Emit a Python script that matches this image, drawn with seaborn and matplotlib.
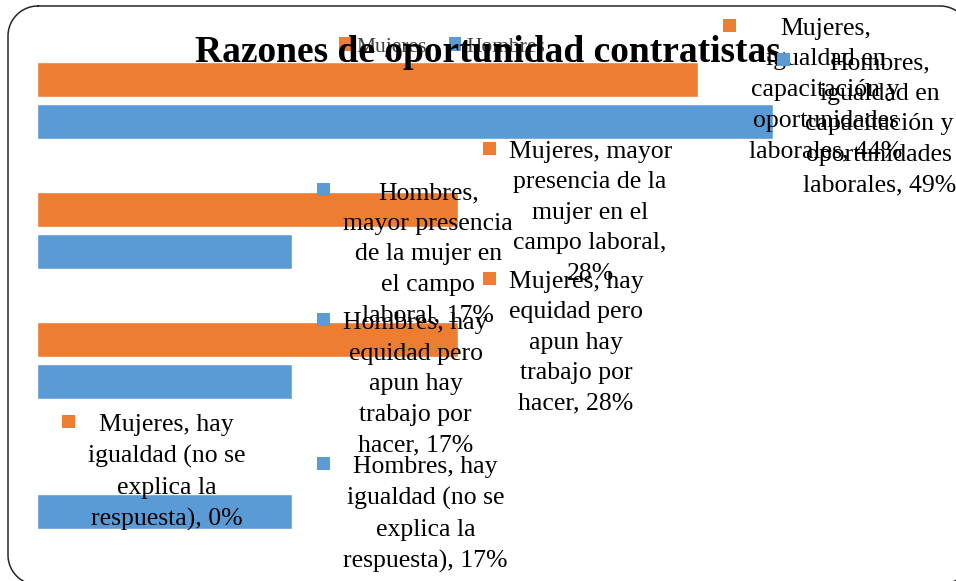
import numpy as np
import pandas as pd
import matplotlib
matplotlib.use("Agg")
import matplotlib.pyplot as plt
import seaborn as sns
from matplotlib.patches import Patch, Rectangle
from matplotlib.transforms import IdentityTransform

# datos
categorias = ["igualdad en capacitación y oportunidades laborales",
              "mayor presencia de la mujer en el campo laboral",
              "hay equidad pero apun hay trabajo por hacer",
              "hay igualdad (no se explica la respuesta)"]
mujeres = [44, 28, 28, 0]
hombres = [49, 17, 17, 17]

# textos de las etiquetas (ya cortados en lineas como en el original)
pref_mujeres = ["Mujeres,\nigualdad en\ncapacitación y\noportunidades\nlaborales, ",
                "Mujeres, mayor\npresencia de la\nmujer en el\ncampo laboral,\n",
                "Mujeres, hay\nequidad pero\napun hay\ntrabajo por\nhacer, ",
                "Mujeres, hay\nigualdad (no se\nexplica la\nrespuesta), "]
pref_hombres = ["Hombres,\nigualdad en\ncapacitación y\noportunidades\nlaborales, ",
                "Hombres,\nmayor presencia\nde la mujer en\nel campo\nlaboral, ",
                "Hombres, hay\nequidad pero\napun hay\ntrabajo por\nhacer, ",
                "Hombres, hay\nigualdad (no se\nexplica la\nrespuesta), "]

colores = {"Mujeres": "#ED7D31", "Hombres": "#5B9BD5"}

df = pd.DataFrame({
    "categoria": categorias * 2,
    "serie": ["Mujeres"] * 4 + ["Hombres"] * 4,
    "valor": mujeres + hombres,
})

sns.set_style("white")
plt.rcParams["font.family"] = ["Liberation Serif", "DejaVu Serif"]
plt.rcParams["text.color"] = "black"

W, H = 956, 581
fig = plt.figure(figsize=(W / 100, H / 100), dpi=100)
ax = fig.add_axes([37 / W, 0, 1 - 37 / W, 1])

sns.barplot(data=df, y="categoria", x="valor", hue="serie", orient="h",
            hue_order=["Mujeres", "Hombres"], palette=colores,
            width=0.645, gap=0.17, saturation=1, legend=False, ax=ax)

px_por_pct = 15.02
ax.set_xlim(0, (W - 37) / px_por_pct)
ax.set_ylim((H - 100.5) / 130, -100.5 / 130)
ax.axis("off")

# etiquetas de datos estilo Excel
textos = []
for cont, prefs, vals, serie in zip(ax.containers, [pref_mujeres, pref_hombres],
                                    [mujeres, hombres], ["Mujeres", "Hombres"]):
    for bar, pref, v in zip(cont, prefs, vals):
        x_fin = bar.get_x() + bar.get_width()
        yc = bar.get_y() + bar.get_height() / 2
        t = ax.annotate(f"{pref}{v}%", xy=(x_fin, yc), xytext=(51 * 0.72, -3 * 0.72),
                        textcoords="offset points", ha="left", va="center",
                        multialignment="center", fontsize=18.5, linespacing=1.5,
                        color="black", annotation_clip=False)
        textos.append((t, colores[serie]))

fig.text(488 / W, 1 - 62 / H, "Razones de oportunidad contratistas", ha="center",
         va="baseline", fontsize=27, fontweight="bold", color="black", zorder=10)

handles = [Patch(facecolor=colores[s], edgecolor="none", label=s) for s in ["Mujeres", "Hombres"]]
leg = fig.legend(handles=handles, loc="center", bbox_to_anchor=(442 / W, 1 - 47 / H),
                 ncol=2, frameon=False, fontsize=15.5, handlelength=0.56, handleheight=0.56,
                 handletextpad=0.25, columnspacing=1.0, borderpad=0)
for txt in leg.get_texts():
    txt.set_color("#404040")

# mantener etiquetas dentro del grafico y poner los cuadritos de leyenda
fig.canvas.draw()
r = fig.canvas.get_renderer()
for t, c in textos:
    bb = t.get_window_extent(r)
    dx = max(bb.x1 - W, 0)
    dy = max(bb.y1 - (H - 18), 0)
    if dx or dy:
        t.xyann = (t.xyann[0] - dx * 0.72, t.xyann[1] - dy * 0.72)
        fig.canvas.draw()
        bb = t.get_window_extent(r)
    fig.add_artist(Rectangle((bb.x0 - 26, bb.y1 - 14), 13, 13, facecolor=c,
                             edgecolor="none", transform=IdentityTransform(), zorder=11))

# borde redondeado del grafico
borde = fig.add_axes([0, 0, 1, 1], zorder=20)
borde.set_xlim(0, W)
borde.set_ylim(0, H)
borde.axis("off")
borde.patch.set_alpha(0)
rad = 30
x0, x1, y0, y1 = 8, 970, -4, 575
esquinas = [(x0 + rad, y1 - rad, 90, 180), (x0 + rad, y0 + rad, 180, 270),
            (x1 - rad, y0 + rad, 270, 360), (x1 - rad, y1 - rad, 0, 90)]
xs, ys = [], []
for cx, cy, a0, a1 in esquinas:
    ang = np.radians(np.linspace(a0, a1, 30))
    xs.extend(cx + rad * np.cos(ang))
    ys.extend(cy + rad * np.sin(ang))
xs.append(xs[0])
ys.append(ys[0])
borde.plot(xs, ys, color="#262626", lw=1.1)

fig.savefig("out.png", dpi=100)
